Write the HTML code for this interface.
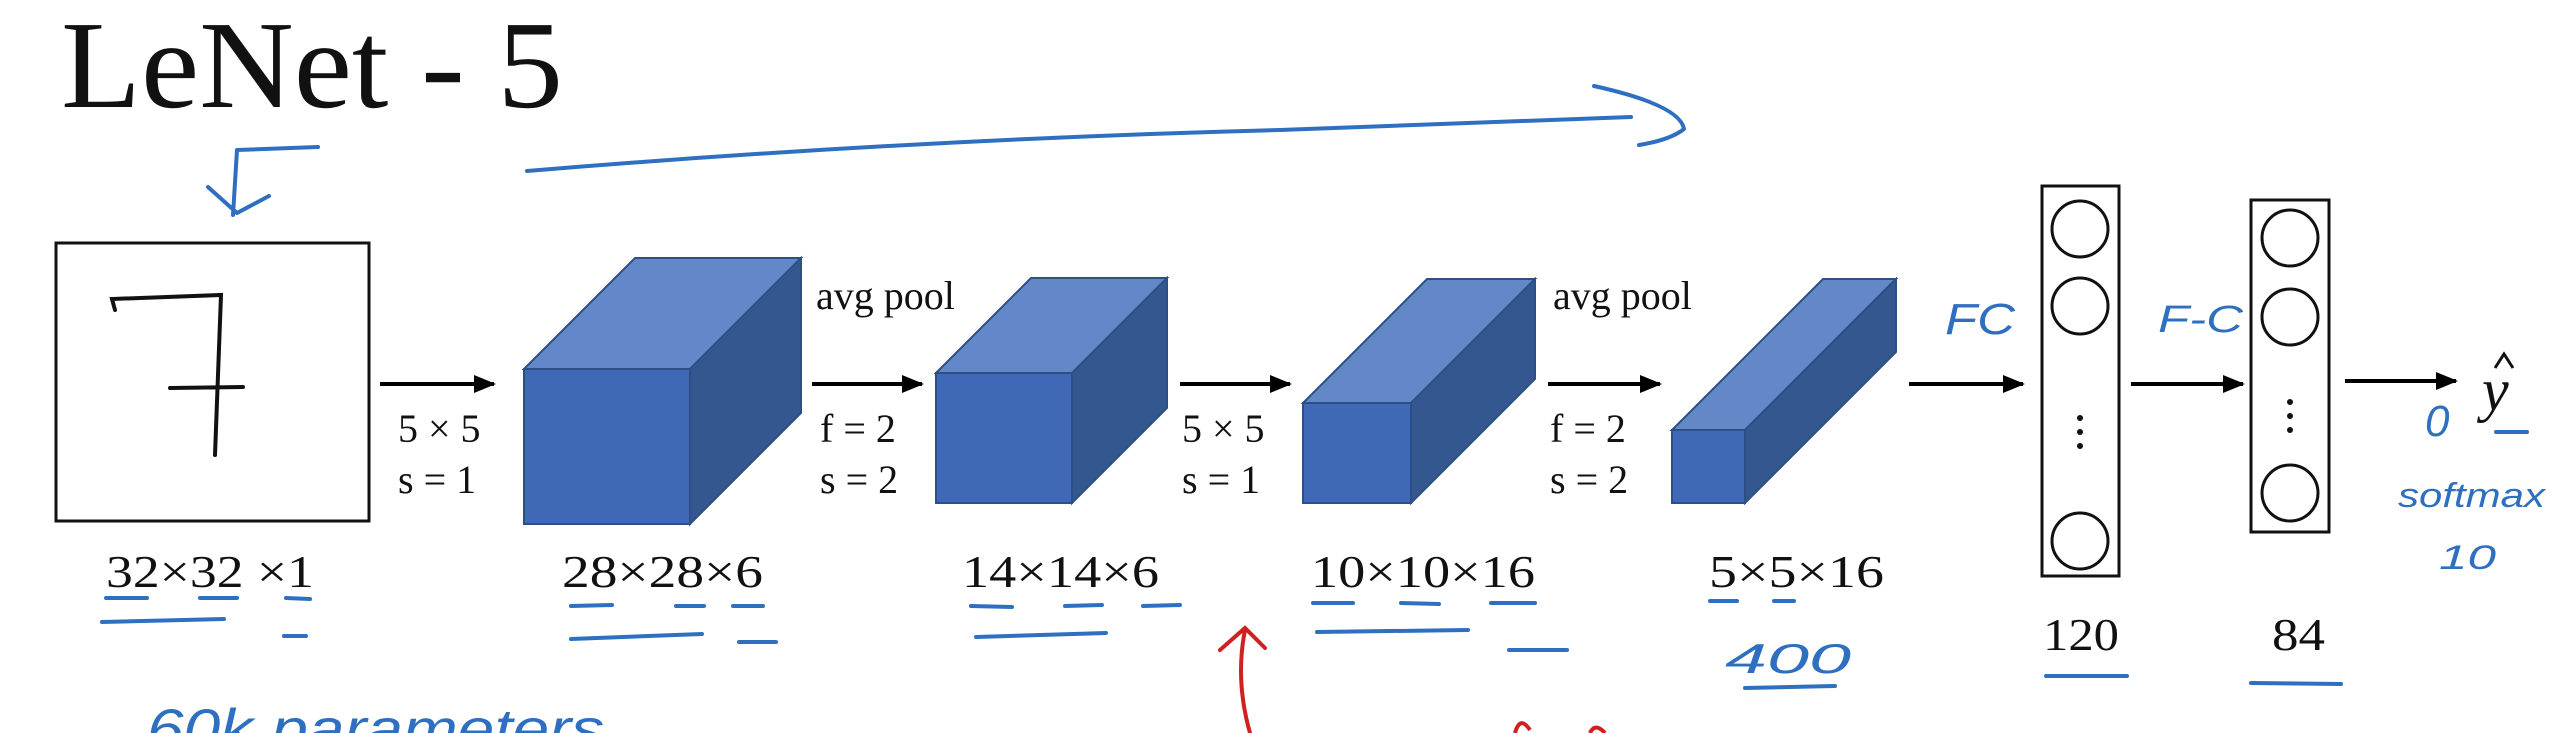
<!DOCTYPE html>
<html><head><meta charset="utf-8"><style>
html,body{margin:0;padding:0;background:#fff;}
svg{display:block;}
.s{font-family:"Liberation Serif",serif;fill:#111;}
.h{font-family:"Liberation Sans",sans-serif;fill:#2f6fc0;font-style:italic;}
.pen{fill:none;stroke:#2f6fc0;stroke-width:4;stroke-linecap:round;stroke-linejoin:round;}
</style></head><body>
<svg id="root" width="2560" height="733" viewBox="0 0 2560 733">
<defs><marker id="ah" markerWidth="22" markerHeight="22" refX="20" refY="11" orient="auto" markerUnits="userSpaceOnUse" viewBox="0 0 22 22"><path d="M0,2 L22,11 L0,20 z" fill="#000"/></marker></defs>
<text class="s" x="61" y="107" font-size="125" textLength="502" lengthAdjust="spacingAndGlyphs">LeNet - 5</text>

<g>
<rect x="56" y="243" width="313" height="278" fill="#fff" stroke="#111" stroke-width="3"/>
<path d="M115,310 L112,299 L221,295 L215,455 M170,388 L243,387" fill="none" stroke="#111" stroke-width="4" stroke-linecap="round"/>
</g>

<g id="cubes"></g>
<g id="arrows" stroke="#000" stroke-width="4"></g>

<g>
<text class="s" x="398" y="442" font-size="40">5 × 5</text><text class="s" x="398" y="493" font-size="40">s = 1</text>
<text class="s" x="816" y="309" font-size="40">avg pool</text>
<text class="s" x="820" y="442" font-size="40">f = 2</text><text class="s" x="820" y="493" font-size="40">s = 2</text>
<text class="s" x="1182" y="442" font-size="40">5 × 5</text><text class="s" x="1182" y="493" font-size="40">s = 1</text>
<text class="s" x="1553" y="309" font-size="40">avg pool</text>
<text class="s" x="1550" y="442" font-size="40">f = 2</text><text class="s" x="1550" y="493" font-size="40">s = 2</text>
</g>

<g>
<text class="s" x="106" y="587" font-size="46" textLength="208" lengthAdjust="spacingAndGlyphs">32×32 ×1</text>
<text class="s" x="562" y="587" font-size="46" textLength="201" lengthAdjust="spacingAndGlyphs">28×28×6</text>
<text class="s" x="962" y="587" font-size="46" textLength="197" lengthAdjust="spacingAndGlyphs">14×14×6</text>
<text class="s" x="1311" y="587" font-size="46" textLength="224" lengthAdjust="spacingAndGlyphs">10×10×16</text>
<text class="s" x="1709" y="587" font-size="46" textLength="175" lengthAdjust="spacingAndGlyphs">5×5×16</text>
<text class="s" x="2043" y="650" font-size="46" textLength="76" lengthAdjust="spacingAndGlyphs">120</text>
<text class="s" x="2272" y="650" font-size="46" textLength="53" lengthAdjust="spacingAndGlyphs">84</text>
</g>

<g stroke="#111" stroke-width="3" fill="#fff">
<rect x="2042" y="186" width="77" height="390"/>
<circle cx="2080" cy="229" r="28"/><circle cx="2080" cy="306" r="28"/><circle cx="2080" cy="541" r="28"/>
<g fill="#111" stroke="none"><circle cx="2080" cy="418" r="3"/><circle cx="2080" cy="432" r="3"/><circle cx="2080" cy="446" r="3"/></g>
</g>
<g stroke="#111" stroke-width="3" fill="#fff">
<rect x="2251" y="200" width="78" height="332"/>
<circle cx="2290" cy="238" r="28"/><circle cx="2290" cy="317" r="28"/><circle cx="2290" cy="493" r="28"/>
<g fill="#111" stroke="none"><circle cx="2290" cy="402" r="3"/><circle cx="2290" cy="416" r="3"/><circle cx="2290" cy="430" r="3"/></g>
</g>
<text class="s" x="2482" y="410" font-size="60" font-style="italic">y</text>
<path d="M2495,368 L2504,354 L2513,368" fill="none" stroke="#111" stroke-width="3"/>

<g>
<path class="pen" d="M527,171 Q900,140 1280,130 L1631,117 M1594,86 Q1680,105 1684,129 Q1670,140 1639,145"/>
<path class="pen" d="M318,147 L237,150 L233,215 M208,187 L237,213 L269,196"/>
<path class="pen" d="M106,598 L147,598 M200,598 L237,598 M286,598 L310,599 M102,622 L224,619 M284,636 L306,636"/>
<path class="pen" d="M571,606 L612,605 M676,606 L704,606 M733,606 L763,606 M571,639 L702,634 M739,642 L776,642"/>
<path class="pen" d="M971,606 L1012,607 M1065,606 L1102,605 M1143,606 L1180,605 M976,637 L1106,633"/>
<path class="pen" d="M1313,603 L1353,603 M1401,603 L1439,604 M1491,603 L1535,603 M1317,632 L1468,630 M1509,650 L1567,650"/>
<path class="pen" d="M1710,601 L1737,601 M1774,601 L1794,601 M1745,688 L1835,686"/>
<path class="pen" d="M2046,676 L2127,676 M2251,683 L2341,684 M2496,432 L2527,432"/>
<text class="h" x="1945" y="334" font-size="44" textLength="70" lengthAdjust="spacingAndGlyphs">FC</text>
<text class="h" x="2158" y="332" font-size="38" textLength="85" lengthAdjust="spacingAndGlyphs">F-C</text>
<text class="h" x="2425" y="436" font-size="44">0</text>
<text class="h" x="2398" y="507" font-size="34" textLength="147" lengthAdjust="spacingAndGlyphs">softmax</text>
<text class="h" x="2439" y="569" font-size="34" textLength="57" lengthAdjust="spacingAndGlyphs">10</text>
<text class="h" x="1725" y="673" font-size="42" textLength="126" lengthAdjust="spacingAndGlyphs">400</text>
<text class="h" x="147" y="748" font-size="56" textLength="457" lengthAdjust="spacingAndGlyphs">60k parameters</text>
<path d="M1220,650 L1245,628 L1265,648 M1245,630 Q1235,680 1250,733" fill="none" stroke="#d02020" stroke-width="4" stroke-linecap="round"/>
<path d="M1515,733 Q1520,715 1530,730 M1590,733 Q1595,722 1605,733" fill="none" stroke="#d02020" stroke-width="4"/>
</g>
</svg>
<script>
// cube geometry: front face x, y, width, height, depth dx
const cubeX=[524,936,1303,1672];
const cubeY=[369,373,403,430];
const cubeW=[166,136,108,73];
const cubeH=[155,130,100,73];
const cubeD=[111,95,124,151];
const arrowX1=[380,812,1180,1548,1909,2131,2345];
const arrowX2=[494,922,1290,1660,2023,2243,2456];
const arrowY=[384,384,384,384,384,384,381];
const NS='http://www.w3.org/2000/svg';
const cg=document.getElementById('cubes');
for(let i=0;i<cubeX.length;i++){
  const x=cubeX[i],y=cubeY[i],w=cubeW[i],h=cubeH[i],d=cubeD[i];
  const g=document.createElementNS(NS,'g');
  
  
  const faces=[
    [[x,y],[x+d,y-d],[x+w+d,y-d],[x+w,y],'#6388c7'],
    [[x+w,y],[x+w+d,y-d],[x+w+d,y+h-d],[x+w,y+h],'#34578f'],
    [[x,y],[x+w,y],[x+w,y+h],[x,y+h],'#3f69b7']];
  for(let k=0;k<faces.length;k++){
    const f=faces[k];
    const p=document.createElementNS(NS,'polygon');
    p.setAttribute('points',[f[0],f[1],f[2],f[3]].map(function(q){return q[0]+','+q[1];}).join(' '));
    p.setAttribute('fill',f[4]);
    p.setAttribute('stroke','#2d4f86');
    p.setAttribute('stroke-width','2');
    g.appendChild(p);
  }
  cg.appendChild(g);
}
const ag=document.getElementById('arrows');
for(let i=0;i<arrowX1.length;i++){
  const l=document.createElementNS(NS,'line');
  
  
  l.setAttribute('x1',arrowX1[i]);
  l.setAttribute('x2',arrowX2[i]);
  l.setAttribute('y1',arrowY[i]);
  l.setAttribute('y2',arrowY[i]);
  l.setAttribute('marker-end','url(#ah)');
  ag.appendChild(l);
}
</script>
</body></html>
